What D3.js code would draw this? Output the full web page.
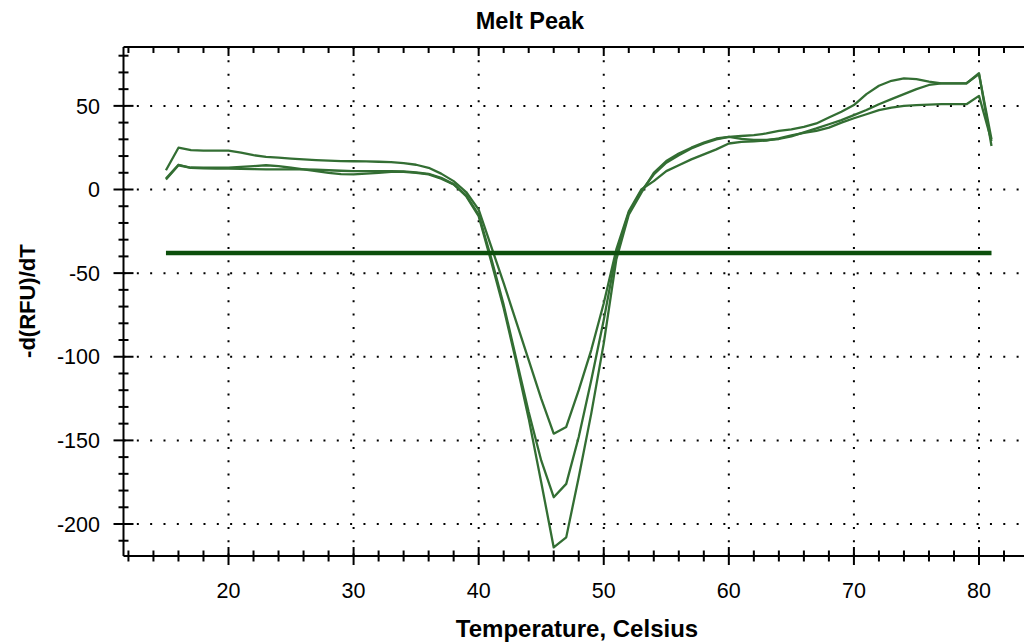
<!DOCTYPE html>
<html>
<head>
<meta charset="utf-8">
<script src="https://cdn.jsdelivr.net/npm/d3@7"></script>
<style>
  html, body { margin: 0; padding: 0; background: #fff; overflow: hidden; }
  svg { display: block; }
  text { font-family: "Liberation Sans", Arial, sans-serif; fill: #000; }
</style>
</head>
<body>
<svg id="chart" width="1024" height="643"></svg>
<script>
// Melt peak: negative first derivative of fluorescence vs temperature, three wells.
const temperatures = d3.range(15, 82, 1);

const wellA = [11.5, 25, 23.5, 23.3, 23.3, 23.2, 22, 20.5, 19.5, 19, 18.5, 18, 17.6, 17.3, 17,
  16.9, 16.8, 16.6, 16.4, 15.8, 14.8, 13, 9.5, 5, -1.5, -12, -34, -56, -79, -102, -125, -146,
  -142, -120, -96, -68, -36, -13, 0, 5, 11, 14.5, 18, 21, 24, 27.5, 28.5, 28.8, 29.3, 30.5,
  32.3, 33.8, 35, 37, 40, 42.6, 45, 47.5, 49, 50, 50.5, 50.8, 51, 51, 51, 56, 29];

const wellB = [6, 14.5, 13, 13, 13, 13, 13.5, 14, 14.5, 14, 13, 12, 11, 10, 9.2, 9, 9.5, 10,
  10.5, 10.5, 10, 9, 6.5, 3, -3.5, -15, -41, -69, -101, -133, -162, -184, -176, -148, -114,
  -78, -38, -14, -1, 9, 16, 20.5, 24.5, 27.5, 30, 31.5, 30.3, 29.6, 29.6, 30.2, 31.8, 34.2,
  36.5, 39, 41.5, 44.5, 47.5, 51, 54, 57, 60, 62.5, 63.5, 63.5, 63.5, 69, 30];

const wellC = [6.5, 14.8, 13, 12.7, 12.5, 12.5, 12.3, 12.2, 12, 12, 12, 12, 11.8, 11.5, 11.2,
  11, 11, 11, 11, 10.8, 10.3, 9.3, 7, 3.2, -4, -16, -43, -71, -103, -137, -175, -214, -208,
  -172, -134, -92, -42, -15, -2, 10, 17, 21.5, 25, 28, 30.5, 31.5, 32, 32.5, 33.5, 35, 36,
  37.5, 39.5, 43, 46.5, 50.5, 57, 62, 65, 66.5, 66, 64.5, 63.5, 63.5, 63.5, 69.5, 26];

// Peak threshold line
const thresholdValue = -38;
const thresholdSpan = [15, 81];

// Axis ticks
const xMajorTicks = [20, 30, 40, 50, 60, 70, 80];
const xMinorTicks = d3.range(12, 88, 2).filter(t => t % 10 !== 0);
const xMajorAll = [10, 20, 30, 40, 50, 60, 70, 80, 90];
const yMajorTicks = [50, 0, -50, -100, -150, -200];
const yMinorTicks = d3.range(-210, 90, 10).filter(t => t % 50 !== 0);

const svg = d3.select("#chart");
const W = 1024, H = 643;
const plotLeft = 123.5, plotTop = 47, plotBottom = 556;

const x = d3.scaleLinear().domain([20, 80]).range([228.5, 979]);
const y = d3.scaleLinear().domain([0, -200]).range([189.5, 524]);
const rightEdge = x(86);

// Title
svg.append("text")
  .attr("x", 530).attr("y", 29)
  .attr("text-anchor", "middle")
  .style("font-weight", "bold").style("font-size", "23.5px")
  .text("Melt Peak");

// Dotted grid
const grid = svg.append("g");
grid.selectAll("line.h").data(yMajorTicks).join("line")
  .attr("x1", plotLeft).attr("x2", W)
  .attr("y1", d => y(d)).attr("y2", d => y(d))
  .attr("stroke", "#000").attr("stroke-width", 2)
  .attr("stroke-dasharray", "2 11.33");
grid.selectAll("line.v").data(xMajorTicks).join("line")
  .attr("y1", plotTop).attr("y2", plotBottom)
  .attr("x1", d => x(d)).attr("x2", d => x(d))
  .attr("stroke", "#000").attr("stroke-width", 2)
  .attr("stroke-dasharray", "2 11.33");

// Frame: left axis, bottom axis, top border
const frame = svg.append("g").attr("stroke", "#000").attr("stroke-width", 2);
frame.append("line").attr("x1", plotLeft).attr("x2", plotLeft).attr("y1", plotTop).attr("y2", plotBottom);
frame.append("line").attr("x1", plotLeft).attr("x2", rightEdge).attr("y1", plotBottom).attr("y2", plotBottom);
frame.append("line").attr("x1", plotLeft).attr("x2", rightEdge).attr("y1", plotTop).attr("y2", plotTop);

const xMajorShown = xMajorAll.filter(d => x(d) > plotLeft);

// Bottom axis ticks (crossing the axis)
frame.append("g").selectAll("line").data(xMinorTicks).join("line")
  .attr("x1", d => x(d)).attr("x2", d => x(d))
  .attr("y1", plotBottom - 5.5).attr("y2", plotBottom + 5.5);
frame.append("g").selectAll("line").data(xMajorShown).join("line")
  .attr("x1", d => x(d)).attr("x2", d => x(d))
  .attr("y1", plotBottom - 9).attr("y2", plotBottom + 9);

// Top border ticks (pointing inward)
frame.append("g").selectAll("line").data(xMinorTicks).join("line")
  .attr("x1", d => x(d)).attr("x2", d => x(d))
  .attr("y1", plotTop).attr("y2", plotTop + 6);
frame.append("g").selectAll("line").data(xMajorShown).join("line")
  .attr("x1", d => x(d)).attr("x2", d => x(d))
  .attr("y1", plotTop).attr("y2", plotTop + 9);

// Left axis ticks (crossing the axis)
frame.append("g").selectAll("line").data(yMinorTicks).join("line")
  .attr("y1", d => y(d)).attr("y2", d => y(d))
  .attr("x1", plotLeft - 5).attr("x2", plotLeft + 5);
frame.append("g").selectAll("line").data(yMajorTicks).join("line")
  .attr("y1", d => y(d)).attr("y2", d => y(d))
  .attr("x1", plotLeft - 10).attr("x2", plotLeft + 10);

// Tick labels
svg.append("g").selectAll("text").data(xMajorTicks).join("text")
  .attr("x", d => x(d)).attr("y", 598)
  .attr("text-anchor", "middle")
  .style("font-size", "21.5px")
  .text(d => d);
svg.append("g").selectAll("text").data(yMajorTicks).join("text")
  .attr("x", 100).attr("y", d => y(d))
  .attr("dy", "0.36em")
  .attr("text-anchor", "end")
  .style("font-size", "21.5px")
  .text(d => d);

// Axis titles
svg.append("text")
  .attr("x", 577).attr("y", 637)
  .attr("text-anchor", "middle")
  .style("font-weight", "bold").style("font-size", "24px")
  .text("Temperature, Celsius");
svg.append("text")
  .attr("transform", `translate(35, ${y(-50) + 28}) rotate(-90)`)
  .attr("text-anchor", "middle")
  .style("font-weight", "bold").style("font-size", "22px")
  .text("-d(RFU)/dT");

// Curves
const line = d3.line()
  .x((d, i) => x(temperatures[i]))
  .y(d => y(d));

svg.append("g").selectAll("path").data([wellA, wellB, wellC]).join("path")
  .attr("d", line)
  .attr("fill", "none")
  .attr("stroke", "#336e33")
  .attr("stroke-width", 2.3)
  .attr("stroke-linejoin", "round");

// Threshold
svg.append("line")
  .attr("x1", x(thresholdSpan[0])).attr("x2", x(thresholdSpan[1]))
  .attr("y1", y(thresholdValue)).attr("y2", y(thresholdValue))
  .attr("stroke", "#0c4f0c").attr("stroke-width", 4.5);
</script>
</body>
</html>
